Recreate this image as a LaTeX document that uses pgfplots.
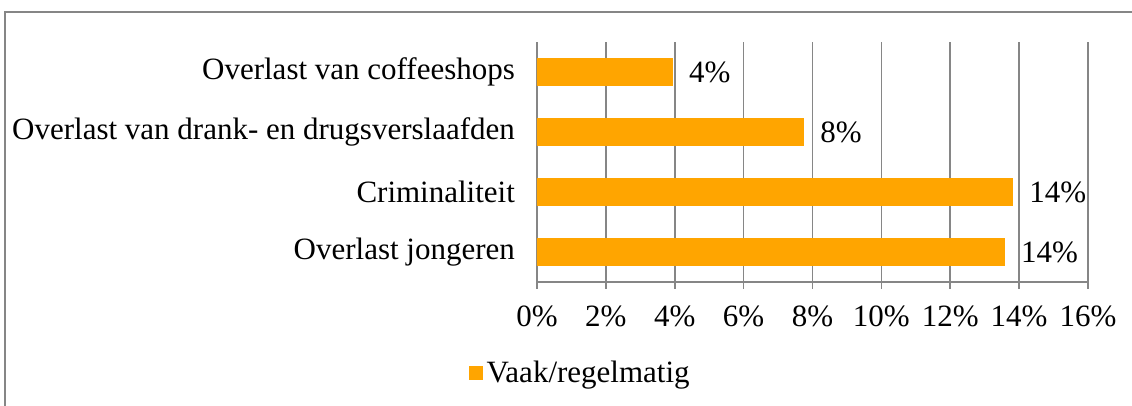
\documentclass[border=0pt]{standalone}
\usepackage{pgfplots}
\pgfplotsset{compat=1.18}
\usepackage{fontspec}
\setmainfont{Liberation Serif}
\definecolor{barorange}{RGB}{255,165,0}
\definecolor{gridgray}{RGB}{134,134,134}

\begin{document}
\begin{tikzpicture}[font=\fontsize{15.5}{18}\selectfont]
% page frame (1px = 0.5pt)
\path[use as bounding box] (0,0) rectangle (566pt,-203pt);
\draw[gridgray, line width=0.8pt] (2.5pt,-203pt) -- (2.5pt,-6pt) -- (566pt,-6pt);

\begin{axis}[
    at={(268.5pt,-141pt)},
    anchor=south west,
    scale only axis,
    width=275.5pt,
    height=120pt,
    xbar,
    bar width=13.5pt,
    xmin=0, xmax=16,
    ymin=-0.5, ymax=3.5,
    xtick={0,2,...,16},
    xticklabel={\pgfmathprintnumber{\tick}\%},
    /pgf/number format/assume math mode=true,
    ytick={0,1,2,3},
    yticklabels={Overlast jongeren, Criminaliteit,
        Overlast van drank- en drugsverslaafden, Overlast van coffeeshops},
    extra y ticks={-0.5,0.5,1.5,2.5,3.5},
    extra y tick labels={},
    extra y tick style={major tick length=3.5pt, tick style={gridgray, line width=0.8pt}},
    axis x line*=bottom,
    axis y line*=left,
    axis line style={gridgray, line width=0.8pt, -},
    xmajorgrids,
    grid style={gridgray, line width=0.8pt},
    major tick length=3.5pt,
    tick align=outside,
    tick style={gridgray, line width=0.8pt},
    ytick style={draw=none},
    xticklabel style={yshift=-5pt, text=black},
    yticklabel style={xshift=-4pt, text=black},
    nodes near coords={\pgfmathprintnumber[fixed,precision=0]{\pgfplotspointmeta}\%},
    nodes near coords align={anchor=west},
    every node near coord/.append style={xshift=5pt, text=black},
    legend style={at={(0.08,-0.379)}, anchor=center, draw=none, fill=none},
    legend image code/.code={\fill[barorange] (0pt,-3.3pt) rectangle (6.6pt,3.3pt);},
]
\addplot[fill=barorange, draw=barorange] coordinates {
    (13.56,0) (13.8,1) (7.73,2) (3.92,3)
};
\legend{Vaak/regelmatig}
\end{axis}
\end{tikzpicture}
\end{document}
